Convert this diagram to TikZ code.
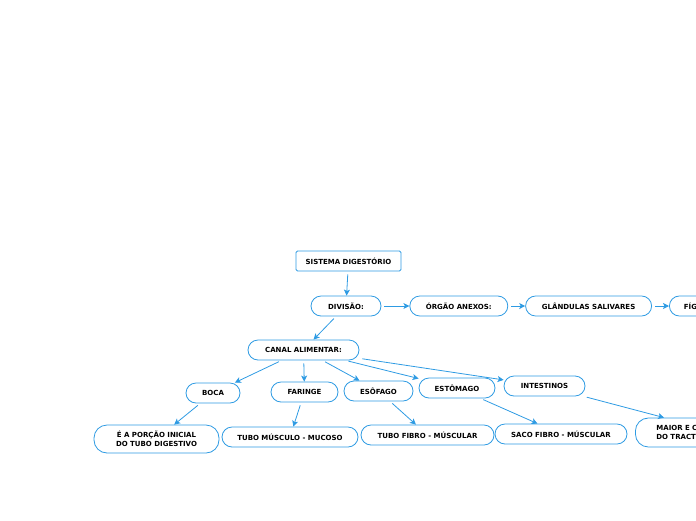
\documentclass[tikz,border=0pt]{standalone}
\usepackage{fontspec}
\setmainfont{DejaVu Sans}
\usetikzlibrary{positioning, arrows.meta}
\definecolor{azul}{HTML}{2E9BE3}

\begin{document}
\begin{tikzpicture}[x=1pt, y=-1pt,
      bloco/.style={draw=azul, line width=0.8pt, rounded corners=10pt,
        fill=white, text=black, align=center, inner sep=2pt,
        font=\bfseries\fontsize{7}{8.5}\selectfont, minimum height=20pt},
      corte/.style={bloco, align=left, anchor=west},
      seta/.style={-{Stealth[length=6pt, width=6pt, inset=1.5pt]}, azul,
        line width=0.8pt, shorten <=3pt}]
    \useasboundingbox (0,0) rectangle (696,520);
    \clip (0,0) rectangle (696,520);
    \node[bloco, rounded corners=1.5pt, minimum width=105pt] (sistema) at (348.5,261) {SISTEMA DIGESTÓRIO};
    \node[bloco, minimum width=70pt] (divisao) at (346,306) {DIVISÃO:};
    \node[bloco, minimum width=98pt, right=28pt of divisao] (orgao) {ÓRGÃO ANEXOS:};
    \node[bloco, minimum width=126pt, right=17pt of orgao] (glandulas) {GLÂNDULAS SALIVARES};
    \node[corte, inner xsep=14.5pt, text width=40pt, right=17pt of glandulas] (figado) {FÍG};
    \node[bloco, minimum width=111pt] (canal) at (303.5,350) {CANAL ALIMENTAR:};
    \node[bloco, minimum width=54pt] (boca) at (213,393) {BOCA};
    \node[bloco, minimum width=67pt] (faringe) at (304.5,392) {FARINGE};
    \node[bloco, minimum width=69pt] (esofago) at (378.5,391) {ESÔFAGO};
    \node[bloco, minimum width=76pt] (estomago) at (457,388) {ESTÔMAGO};
    \node[bloco, minimum width=81pt] (intestinos) at (544.5,386) {INTESTINOS};
    \node[bloco, minimum width=125pt, minimum height=28pt, rounded corners=13pt] (porcao) at (156.5,439) {É A PORÇÃO INICIAL\\DO TUBO DIGESTIVO};
    \node[bloco, minimum width=136pt] (mucoso) at (290,437) {TUBO MÚSCULO - MUCOSO};
    \node[bloco, minimum width=133pt] (tubofibro) at (427.5,435) {TUBO FIBRO - MÚSCULAR};
    \node[bloco, minimum width=132pt] (saco) at (561,434) {SACO FIBRO - MÚSCULAR};
    \node[corte, inner xsep=21pt, text width=128pt, minimum height=29pt, rounded corners=13pt] (maior) at (635,432.5) {MAIOR E C\\DO TRACT};
    % ligacoes
    \draw[seta] (sistema) -- (divisao);
    \draw[seta] (divisao) -- (orgao);
    \draw[seta] (orgao) -- (glandulas);
    \draw[seta] (glandulas) -- (figado);
    \draw[seta] (divisao) -- (canal);
    \draw[seta] (canal) -- (boca);
    \draw[seta] (canal) -- (faringe);
    \draw[seta] (canal) -- (esofago);
    \draw[seta] (canal) -- (estomago);
    \draw[seta] (canal) -- (intestinos);
    \draw[seta] (boca) -- (porcao);
    \draw[seta] (faringe) -- (mucoso);
    \draw[seta] (esofago) -- (tubofibro);
    \draw[seta] (estomago) -- (saco);
    \draw[seta] (intestinos) -- (maior);
\end{tikzpicture}
\end{document}
